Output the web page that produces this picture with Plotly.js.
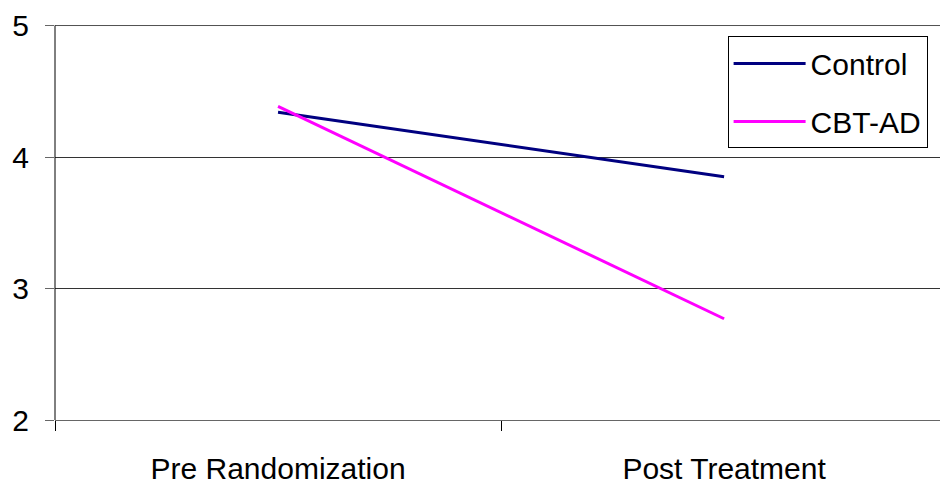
<!DOCTYPE html>
<html>
<head>
<meta charset="utf-8">
<script src="https://cdn.plot.ly/plotly-3.0.1.min.js"></script>
<style>
  html, body { margin: 0; padding: 0; background: #fff; }
  #chart { width: 940px; height: 485px; }
</style>
</head>
<body>
<div id="chart"></div>
<script>
// Time points on the x axis
const timePoints = ['Pre Randomization', 'Post Treatment'];

// Mean scores per group
const controlScores = [4.34, 3.85];
const cbtadScores = [4.385, 2.77];

// Y axis ticks
const yTicks = [2, 3, 4, 5];
const yMin = yTicks[0];
const yMax = yTicks[yTicks.length - 1];
// headroom above the top tick so its grid line sits well inside the plot area
const yTop = yMax + 0.08;
const yMaxPaper = (yMax - yMin) / (yTop - yMin);

const font = 'Liberation Sans, Arial, sans-serif';

const traces = [
  {
    x: timePoints, y: controlScores, name: 'Control', legendgroup: 'a',
    type: 'scatter', mode: 'lines',
    line: { color: '#000080', width: 3 }
  },
  {
    x: timePoints, y: cbtadScores, name: 'CBT-AD', legendgroup: 'b',
    type: 'scatter', mode: 'lines',
    line: { color: '#FF00FF', width: 3 }
  }
];

const layout = {
  width: 940, height: 485,
  margin: { l: 55, r: 0, t: 15, b: 65 },
  paper_bgcolor: '#fff', plot_bgcolor: '#fff',
  font: { family: font, size: 30, color: '#000' },
  showlegend: true,
  legend: {
    x: 0.76, y: 0.947, xanchor: 'left', yanchor: 'top',
    bordercolor: '#000', borderwidth: 1, bgcolor: '#fff',
    font: { family: font, size: 30, color: '#000' },
    itemwidth: 72, tracegroupgap: 16, traceorder: 'grouped'
  },
  xaxis: {
    type: 'category',
    range: [-0.5, 1.484],
    tickson: 'boundaries',
    ticks: 'outside', ticklen: 10, tickcolor: '#000', tickwidth: 1,
    ticklabelstandoff: 22,
    showgrid: false, zeroline: false,
    showline: true, linecolor: '#666', linewidth: 1,
    tickfont: { family: font, size: 30, color: '#000' },
    fixedrange: true
  },
  yaxis: {
    range: [yMin, yTop],
    tickvals: yTicks,
    ticktext: yTicks.map(String),
    ticks: 'outside', ticklen: 9, tickcolor: '#666', tickwidth: 1,
    ticklabelstandoff: 10,
    showgrid: true, gridcolor: '#333', gridwidth: 1,
    zeroline: false,
    showline: false,
    tickfont: { family: font, size: 30, color: '#000' },
    fixedrange: true
  },
  shapes: [
    // top grid line at the highest tick
    {
      type: 'line', xref: 'paper', yref: 'paper',
      x0: 0, x1: 1, y0: yMaxPaper, y1: yMaxPaper,
      line: { color: '#555', width: 1 }, layer: 'above'
    },
    // value-axis line running from the lowest to the highest tick
    {
      type: 'line', xref: 'paper', yref: 'paper',
      x0: 0, x1: 0, y0: 0, y1: yMaxPaper,
      line: { color: '#000', width: 1 }, layer: 'above'
    }
  ]
};

Plotly.newPlot('chart', traces, layout, { displayModeBar: false, staticPlot: true });
</script>
</body>
</html>
